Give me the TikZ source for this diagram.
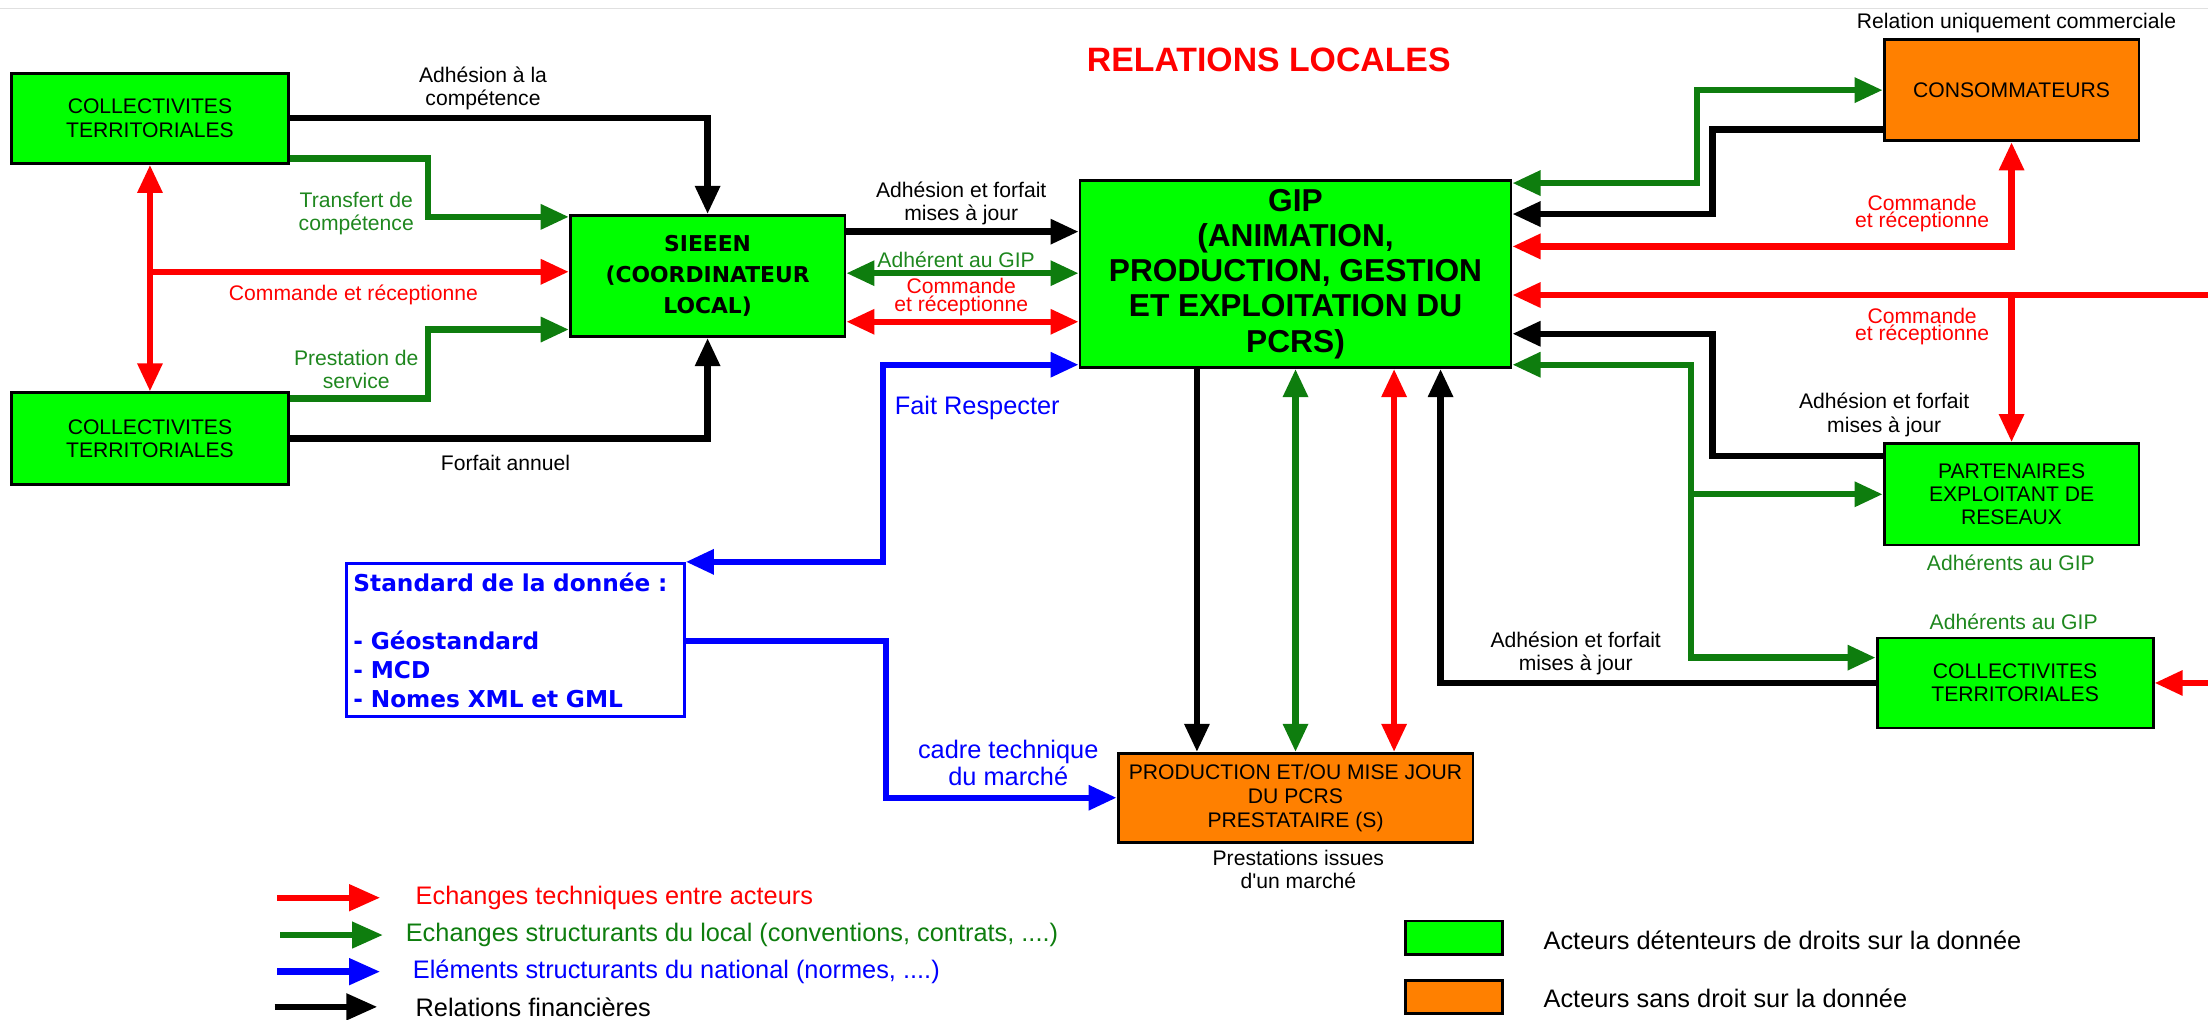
\documentclass[tikz,border=0pt]{standalone}
\usepackage{fontspec}
\setmainfont{Liberation Sans}
\newfontfamily\dejavu{DejaVu Sans}
\usetikzlibrary{arrows.meta,calc}
\definecolor{boxgreen}{RGB}{0,255,0}
\definecolor{boxorange}{RGB}{255,128,0}
\definecolor{argreen}{RGB}{14,125,14}
\definecolor{txtgreen}{RGB}{30,135,30}
\definecolor{arred}{RGB}{255,0,0}
\definecolor{arblue}{RGB}{0,0,255}
\begin{document}
\begin{tikzpicture}[x=1pt,y=-1pt,
  >={Triangle[length=20pt,width=17pt]},
  conn/.style={line width=4.5pt, line join=miter},
  cblack/.style={conn,draw=black},
  cgreen/.style={conn,draw=argreen},
  cred/.style={conn,draw=arred},
  cblue/.style={conn,draw=arblue},
  actor/.style={draw=black, line width=2pt, fill=boxgreen, inner sep=0pt, align=center, font=\fontsize{15}{16.5}\selectfont},
  actorO/.style={actor, fill=boxorange},
  lbl/.style={inner sep=0pt, align=center, font=\fontsize{15}{16.5}\selectfont},
  lbltight/.style={lbl, font=\fontsize{15}{12.5}\selectfont},
  lblblue/.style={inner sep=0pt, align=center, text=arblue, font=\fontsize{18}{19.5}\selectfont},
  legarrow/.style={line width=4.5pt, -{Triangle[length=22pt,width=18pt]}},
  legtxt/.style={anchor=west, inner sep=0pt, font=\fontsize{18}{20}\selectfont},
  swatch/.style={draw=black, line width=2pt, minimum width=69pt, minimum height=24pt, inner sep=0pt}
]
\path[use as bounding box] (0,0) rectangle (1568,724);
\draw[black!12, line width=1pt] (0,6) -- (1568,6);

% title
\node[text=arred, inner sep=0pt, font=\bfseries\fontsize{24}{28}\selectfont] (title) at (901,42.6) {RELATIONS LOCALES};

% boxes
\node[actor, minimum width=197pt, minimum height=64pt] (ct1) at (106.5,84) {COLLECTIVITES\\TERRITORIALES};
\node[actor, minimum width=197pt, minimum height=65pt] (ct2) at (106.5,311.5) {COLLECTIVITES\\TERRITORIALES};
\node[actor, minimum width=195pt, minimum height=86pt, font=\dejavu\bfseries\fontsize{15.5}{22}\selectfont] (sieeen) at (502.5,196) {SIEEEN\\(COORDINATEUR\\LOCAL)};
\node[actor, minimum width=306pt, minimum height=133pt, font=\bfseries\fontsize{22.5}{25}\selectfont] (gip) at (920,194.5) {GIP\\(ANIMATION,\\PRODUCTION, GESTION\\ET EXPLOITATION DU\\PCRS)};
\node[actorO, minimum width=181pt, minimum height=72pt] (cons) at (1428.5,64) {CONSOMMATEURS};
\node[actor, minimum width=181pt, minimum height=72pt] (part) at (1428.5,351) {PARTENAIRES\\EXPLOITANT DE\\RESEAUX};
\node[actor, minimum width=196pt, minimum height=64pt] (ct3) at (1431,485) {COLLECTIVITES\\TERRITORIALES};
\node[actorO, minimum width=252pt, minimum height=63pt, font=\fontsize{15}{17}\selectfont] (prod) at (920,566.5) {PRODUCTION ET/OU MISE JOUR\\DU PCRS\\PRESTATAIRE (S)};
\node[draw=arblue, line width=2pt, minimum width=240pt, minimum height=109pt, text width=230pt, inner sep=0pt, align=left, text=arblue, font=\dejavu\bfseries\fontsize{16.5}{20.6}\selectfont] (std) at (366,454.5) {Standard de la donnée :\\[20.6pt]- Géostandard\\- MCD\\- Nomes XML et GML};

% left connectors
\draw[cblack,->] (ct1.east) -| (sieeen.north);
\draw[cgreen,->] (ct1.east |- 0,112.5) -| (304,154) -- (sieeen.west |- 0,154);
\draw[cred,<->] (ct1.south) -- (ct2.north);
\coordinate (redjoin) at (ct1.south |- 0,193);
\draw[cred,->] (redjoin) -- (sieeen.west |- redjoin);
\draw[cgreen,->] (ct2.east |- 0,283) -| (304,234) -- (sieeen.west |- 0,234);
\draw[cblack,->] (ct2.east) -| (sieeen.south);

% sieeen - gip
\draw[cblack,->] (sieeen.east |- 0,164.5) -- (gip.west |- 0,164.5);
\draw[cgreen,<->] (sieeen.east |- 0,194) -- (gip.west |- 0,194);
\draw[cred,<->] (sieeen.east |- 0,228.5) -- (gip.west |- 0,228.5);

% blue
\draw[cblue,<->] (std.north east) -| (627,259) -- (gip.west |- 0,259);
\draw[cblue,->] (std.east |- 0,455) -| (629,566.5) -- (prod.west);

% gip - prod
\draw[cblack,->] (850,0 |- gip.south) -- (850,0 |- prod.north);
\draw[cgreen,<->] (gip.south) -- (prod.north);
\draw[cred,<->] (990,0 |- gip.south) -- (990,0 |- prod.north);
\draw[cblack,->] (ct3.west) -| (1023,0 |- gip.south);

% right side
\draw[cgreen,<->] (gip.east |- 0,130) -| (1205,64) -- (cons.west);
\draw[cblack,->] (cons.west |- 0,92) -| (1216,152) -- (gip.east |- 0,152);
\draw[cred,<->] (cons.south) |- (gip.east |- 0,175);
\coordinate (edgeA) at (1570,209.5);
\draw[cred,->] (edgeA) -- (gip.east |- edgeA);
\draw[cred,->] (part.north |- edgeA) -- (part.north);
\draw[cblack,->] (part.west |- 0,324) -| (1216,237) -- (gip.east |- 0,237);
\draw[cgreen,<->] (gip.east |- 0,259) -| (1201,467) -- (ct3.west |- 0,467);
\draw[cgreen,->] (1201,0 |- part.west) -- (part.west);
\coordinate (edgeB) at (1570,485);
\draw[cred,->] (edgeB) -- (ct3.east);

% labels
\node[lbl] (lAdh1) at (343,62.7) {Adhésion à la\\compétence};
\node[lbl,text=txtgreen] (lTransf) at (253,151.5) {Transfert de\\compétence};
\node[lbl,text=arred] (lCmd1) at (251,209.5) {Commande et réceptionne};
\node[lbl,text=txtgreen] (lPrest) at (253,262.3) {Prestation de\\service};
\node[lbl] (lForf) at (359,329) {Forfait annuel};
\node[lbl] (lAdh2) at (682.6,144.7) {Adhésion et forfait\\mises à jour};
\node[lbl,text=txtgreen] (lAdhGIP) at (679,184.4) {Adhérent au GIP};
\node[lbltight,text=arred] (lCmd2) at (682.6,211) {Commande\\et réceptionne};
\node[lblblue] (lFait) at (694,289.6) {Fait Respecter};
\node[lblblue] (lCadre) at (716,541.7) {cadre technique\\du marché};
\node[lbl] (lPrIss) at (922,617.5) {Prestations issues\\d\textquotesingle un marché};
\node[lbl] (lRel) at (1432,16.6) {Relation uniquement commerciale};
\node[lbltight,text=arred] (lCmdR1) at (1365,151.5) {Commande\\et réceptionne};
\node[lbltight,text=arred] (lCmdR2) at (1365,232) {Commande\\et réceptionne};
\node[lbl] (lAdhR1) at (1338,294.7) {Adhésion et forfait\\mises à jour};
\node[lbl,text=txtgreen] (lAGIP1) at (1428,399.4) {Adhérents au GIP};
\node[lbl,text=txtgreen] (lAGIP2) at (1430,441.9) {Adhérents au GIP};
\node[lbl] (lAdhR2) at (1119,464) {Adhésion et forfait\\mises à jour};

% legend arrows
\coordinate (la1) at (197,637.5); \coordinate (la2) at (270,637.5);
\coordinate (lb1) at (199,664);   \coordinate (lb2) at (272,664);
\coordinate (lc1) at (197,690);   \coordinate (lc2) at (270,690);
\coordinate (ld1) at (195,715);   \coordinate (ld2) at (268,715);
\draw[legarrow,draw=arred,fill=arred] (la1) -- (la2);
\draw[legarrow,draw=argreen,fill=argreen] (lb1) -- (lb2);
\draw[legarrow,draw=arblue,fill=arblue] (lc1) -- (lc2);
\draw[legarrow,draw=black,fill=black] (ld1) -- (ld2);
\node[legtxt,text=arred] (t1) at (295,637.5) {Echanges techniques entre acteurs};
\node[legtxt,text=argreen] (t2) at (288,664) {Echanges structurants du local (conventions, contrats, ....)};
\node[legtxt,text=arblue] (t3) at (293,690) {Eléments structurants du national (normes, ....)};
\node[legtxt] (t4) at (295,715) {Relations financières};

% legend swatches
\node[swatch,fill=boxgreen] (sw1) at (1032.5,666) {};
\node[swatch,fill=boxorange] (sw2) at (1032.5,708) {};
\node[legtxt] (t5) at (1096,667.6) {Acteurs détenteurs de droits sur la donnée};
\node[legtxt] (t6) at (1096,709) {Acteurs sans droit sur la donnée};
\end{tikzpicture}
\end{document}
